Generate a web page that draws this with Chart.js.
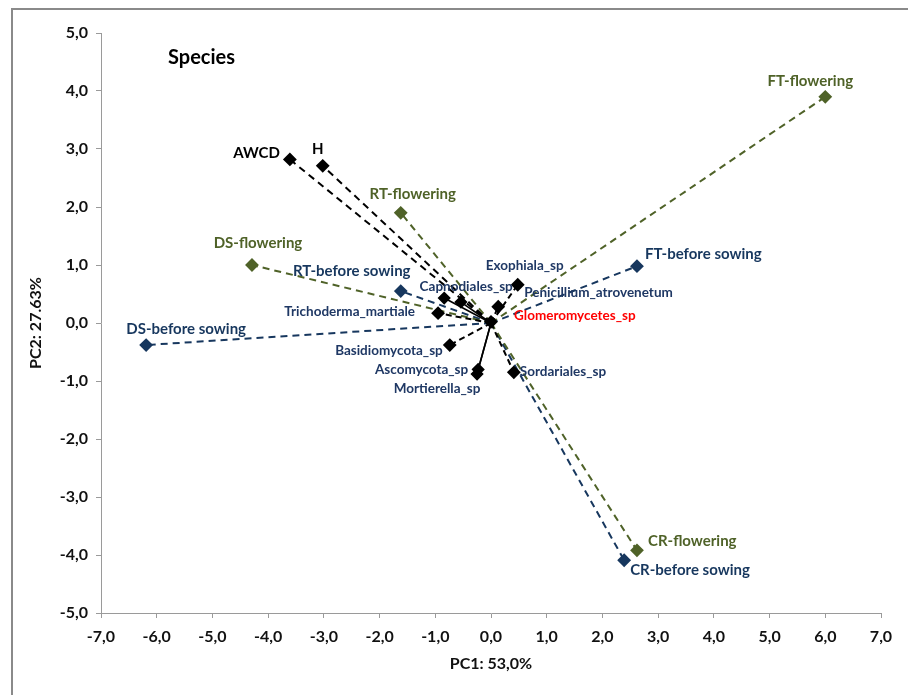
<!DOCTYPE html>
<html>
<head>
<meta charset="utf-8">
<script src="https://cdn.jsdelivr.net/npm/chart.js@4.4.1/dist/chart.umd.min.js"></script>
<style>
  html, body { margin: 0; padding: 0; background: #fff; }
  canvas { display: block; }
</style>
</head>
<body>
<canvas id="pca" width="908" height="695"></canvas>
<script>
// sites, before sowing
const beforeNames = ["DS-before sowing", "RT-before sowing", "FT-before sowing", "CR-before sowing"];
const beforeX = [-6.19, -1.62, 2.62, 2.39];
const beforeY = [-0.38, 0.55, 0.98, -4.09];

// sites, flowering
const flowerNames = ["DS-flowering", "RT-flowering", "FT-flowering", "CR-flowering"];
const flowerX = [-4.29, -1.62, 6.0, 2.62];
const flowerY = [1.0, 1.9, 3.9, -3.92];

// diversity indices
const indexNames = ["AWCD", "H"];
const indexX = [-3.61, -3.02];
const indexY = [2.82, 2.71];

// species vectors
const speciesNames = ["Capnodiales_sp", "", "Trichoderma_martiale", "Exophiala_sp", "Penicillium_atrovenetum",
  "Glomeromycetes_sp", "Basidiomycota_sp", "Ascomycota_sp", "Mortierella_sp", "Sordariales_sp"];
const speciesX = [-0.84, -0.54, -0.95, 0.48, 0.13, 0.0, -0.74, -0.23, -0.25, 0.41];
const speciesY = [0.43, 0.36, 0.17, 0.66, 0.28, 0.02, -0.38, -0.80, -0.88, -0.85];
const speciesSolid = ["Capnodiales_sp", "", "Ascomycota_sp", "Mortierella_sp"];

// label placement in pixels relative to the marker: [dx, dy, align]
const labelPlace = {
  "DS-before sowing": [40, -16, "center"],
  "RT-before sowing": [-49, -20, "center"],
  "FT-before sowing": [8, -12, "left"],
  "CR-before sowing": [6, 10, "left"],
  "DS-flowering": [6, -22, "center"],
  "RT-flowering": [12, -19, "center"],
  "FT-flowering": [-15, -16, "center"],
  "CR-flowering": [11, -9, "left"],
  "AWCD": [-10, -6, "right"],
  "H": [-5, -17, "center"],
  "Capnodiales_sp": [22, -11, "center"],
  "Trichoderma_martiale": [-23, -1, "right"],
  "Exophiala_sp": [7, -19, "center"],
  "Penicillium_atrovenetum": [26, -14, "left"],
  "Glomeromycetes_sp": [23, -6, "left"],
  "Basidiomycota_sp": [-7, 6, "right"],
  "Ascomycota_sp": [-10, 0, "right"],
  "Mortierella_sp": [-40, 15, "center"],
  "Sordariales_sp": [6, -1, "left"]
};

const NAVY = "#17375E";
const GREEN = "#4F6228";
const AXIS = "#9a9a9a";
const FONT = "Lato, 'Open Sans', sans-serif";

function vector(name, x, y, color, opts) {
  return Object.assign({
    label: name,
    data: [{ x: 0, y: 0 }, { x: x, y: y }],
    showLine: true,
    borderColor: color,
    backgroundColor: color,
    borderWidth: 2,
    borderDash: [7, 5],
    pointStyle: "rectRot",
    pointRadius: [0, 5.5],
    pointHoverRadius: [0, 5.5],
    textColor: color,
    textSize: 15
  }, opts || {});
}

const datasets = [];
speciesNames.forEach((n, i) => {
  const solid = speciesSolid.includes(n);
  datasets.push(vector(n, speciesX[i], speciesY[i], "#000", {
    borderDash: solid ? [] : [6, 4],
    borderWidth: solid ? 1.6 : 2,
    textColor: n === "Glomeromycetes_sp" ? "#FF0000" : "#1F3864",
    textSize: 13.5
  }));
});
indexNames.forEach((n, i) => datasets.push(vector(n, indexX[i], indexY[i], "#000", { textColor: "#000" })));
flowerNames.forEach((n, i) => datasets.push(vector(n, flowerX[i], flowerY[i], GREEN)));
beforeNames.forEach((n, i) => datasets.push(vector(n, beforeX[i], beforeY[i], NAVY)));

const frame = {
  id: "frame",
  beforeDraw(chart) {
    const ctx = chart.ctx;
    ctx.save();
    ctx.fillStyle = "#fff";
    ctx.fillRect(0, 0, chart.width, chart.height);
    ctx.strokeStyle = "#8a8a8a";
    ctx.lineWidth = 2;
    ctx.strokeRect(12, 9, chart.width + 20, chart.height + 20);
    ctx.restore();
  },
  afterDatasetsDraw(chart) {
    const ctx = chart.ctx;
    ctx.save();
    ctx.textBaseline = "middle";
    chart.data.datasets.forEach((ds, i) => {
      const p = labelPlace[ds.label];
      if (!p) return;
      const pt = chart.getDatasetMeta(i).data[1];
      ctx.font = "bold " + ds.textSize + "px " + FONT;
      ctx.fillStyle = ds.textColor;
      ctx.textAlign = p[2];
      ctx.fillText(ds.label, pt.x + p[0], pt.y + p[1]);
    });
    ctx.font = "bold 20px " + FONT;
    ctx.fillStyle = "#000";
    ctx.textAlign = "left";
    ctx.fillText("Species", 168, 58);
    ctx.restore();
  }
};

const comma = v => v.toFixed(1).replace(".", ",");

new Chart(document.getElementById("pca"), {
  type: "scatter",
  data: { datasets },
  options: {
    responsive: false,
    animation: false,
    layout: { padding: { top: 33, right: 27, left: 0, bottom: 0 } },
    plugins: { legend: { display: false }, tooltip: { enabled: false } },
    scales: {
      x: {
        min: -7, max: 7,
        afterFit: s => { s.height = 82; },
        ticks: { stepSize: 1, callback: comma, color: "#111", padding: 9,
                 font: { family: FONT, size: 16, weight: "bold" } },
        grid: { drawOnChartArea: false, color: AXIS, tickLength: 5 },
        border: { color: AXIS },
        title: { display: true, text: "PC1: 53,0%", color: "#111",
                 font: { family: FONT, size: 16, weight: "bold" }, padding: { top: 22, bottom: 22 } }
      },
      y: {
        min: -5, max: 5,
        afterFit: s => { s.width = 101; },
        ticks: { stepSize: 1, callback: comma, color: "#111", padding: 8,
                 font: { family: FONT, size: 16, weight: "bold" } },
        grid: { drawOnChartArea: false, color: AXIS, tickLength: 5 },
        border: { color: AXIS },
        title: { display: true, text: "PC2: 27.63%", color: "#111",
                 font: { family: FONT, size: 16, weight: "bold" }, padding: { top: 26, bottom: 26 } }
      }
    }
  },
  plugins: [frame]
});
</script>
</body>
</html>
